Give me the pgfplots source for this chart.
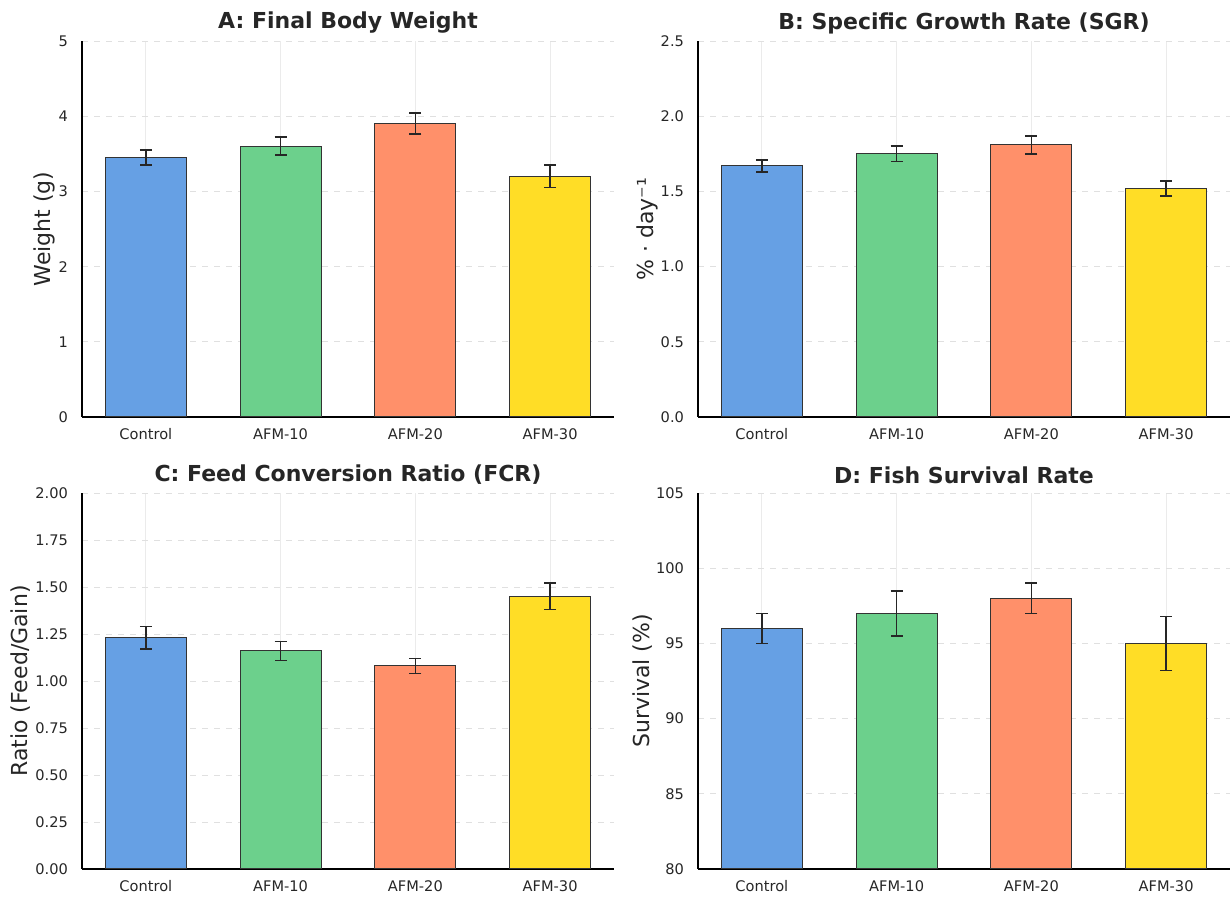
\documentclass[border=0pt]{standalone}
\usepackage{pgfplots}
\pgfplotsset{compat=1.18}
\usepackage{fontspec}
\setmainfont{DejaVu Sans}
\definecolor{cblue}{RGB}{102,160,228}
\definecolor{cgreen}{RGB}{108,208,140}
\definecolor{corange}{RGB}{255,144,106}
\definecolor{cyellow}{RGB}{255,221,38}
\definecolor{ctext}{RGB}{38,38,38}
\pgfplotsset{
  panel/.style={
    scale only axis, width=266pt, height=188pt,
    xmin=-0.474, xmax=3.474,
    xtick={0,1,2,3}, xticklabels={Control,AFM-10,AFM-20,AFM-30},
    axis lines*=left, axis line style={line width=0.8pt, -, black},
    major tick length=0pt,
    tick label style={font=\fontsize{7.3}{8}\selectfont, text=ctext},
    xticklabel style={anchor=base, yshift=-11.5pt},
    yticklabel style={xshift=-3.5pt},
    ymajorgrids, xmajorgrids,
    y grid style={dashed, black!12, line width=0.4pt},
    x grid style={black!8, line width=0.4pt},
    title style={font=\bfseries\fontsize{11}{13}\selectfont, text=ctext, at={(axis description cs:0.5,1)}, anchor=center, yshift=3pt},
    /pgf/number format/assume math mode=true,
  },
  bars/.style={ybar, bar shift=0pt, bar width=0.6, draw=black!80, line width=0.5pt, fill=#1,
    error bars/.cd, y dir=both, y explicit,
    error bar style={black!85, line width=0.8pt},
    error mark options={rotate=90, mark size=3pt, line width=0.8pt, black!85}},
}
\begin{document}
\begin{tikzpicture}
\useasboundingbox (0,0) rectangle (615pt,449pt);
% A
\begin{axis}[panel, at={(41pt,240.5pt)}, anchor=south west,
  title={A: Final Body Weight}, ymin=0, ymax=5, ytick={0,1,2,3,4,5},
  ylabel={Weight (g)},
  ylabel style={font=\fontsize{11}{13}\selectfont, text=ctext, at={(axis description cs:-0.0713,0.5)}, anchor=center, rotate=0}]
\addplot[bars=cblue] coordinates {(0,3.45) +- (0,0.10)};
\addplot[bars=cgreen] coordinates {(1,3.60) +- (0,0.12)};
\addplot[bars=corange] coordinates {(2,3.90) +- (0,0.14)};
\addplot[bars=cyellow] coordinates {(3,3.20) +- (0,0.15)};
\end{axis}
% B
\begin{axis}[panel, at={(349pt,240.5pt)}, anchor=south west,
  title={B: Specific Growth Rate (SGR)}, ymin=0, ymax=2.5, ytick={0,0.5,1,1.5,2,2.5},
  yticklabel style={/pgf/number format/.cd, fixed, fixed zerofill, precision=1},
  ylabel={\% · day⁻¹},
  ylabel style={font=\fontsize{11}{13}\selectfont, text=ctext, at={(axis description cs:-0.0957,0.5)}, anchor=center, rotate=0}]
\addplot[bars=cblue] coordinates {(0,1.67) +- (0,0.04)};
\addplot[bars=cgreen] coordinates {(1,1.75) +- (0,0.05)};
\addplot[bars=corange] coordinates {(2,1.81) +- (0,0.06)};
\addplot[bars=cyellow] coordinates {(3,1.52) +- (0,0.05)};
\end{axis}
% C
\begin{axis}[panel, at={(41pt,14.5pt)}, anchor=south west,
  title={C: Feed Conversion Ratio (FCR)}, ymin=0, ymax=2, ytick={0,0.25,0.5,0.75,1,1.25,1.5,1.75,2},
  yticklabel style={/pgf/number format/.cd, fixed, fixed zerofill, precision=2},
  ylabel={Ratio (Feed/Gain)},
  ylabel style={font=\fontsize{11}{13}\selectfont, text=ctext, at={(axis description cs:-0.116,0.5)}, anchor=center, rotate=0}]
\addplot[bars=cblue] coordinates {(0,1.23) +- (0,0.06)};
\addplot[bars=cgreen] coordinates {(1,1.16) +- (0,0.05)};
\addplot[bars=corange] coordinates {(2,1.08) +- (0,0.04)};
\addplot[bars=cyellow] coordinates {(3,1.45) +- (0,0.07)};
\end{axis}
% D
\begin{axis}[panel, at={(349pt,14.5pt)}, anchor=south west,
  title={D: Fish Survival Rate}, ymin=80, ymax=105, ytick={80,85,90,95,100,105},
  ylabel={Survival (\%)},
  ylabel style={font=\fontsize{11}{13}\selectfont, text=ctext, at={(axis description cs:-0.105,0.5)}, anchor=center, rotate=0}]
\addplot[bars=cblue] coordinates {(0,96) +- (0,1.0)};
\addplot[bars=cgreen] coordinates {(1,97) +- (0,1.5)};
\addplot[bars=corange] coordinates {(2,98) +- (0,1.0)};
\addplot[bars=cyellow] coordinates {(3,95) +- (0,1.8)};
\end{axis}
\end{tikzpicture}
\end{document}
